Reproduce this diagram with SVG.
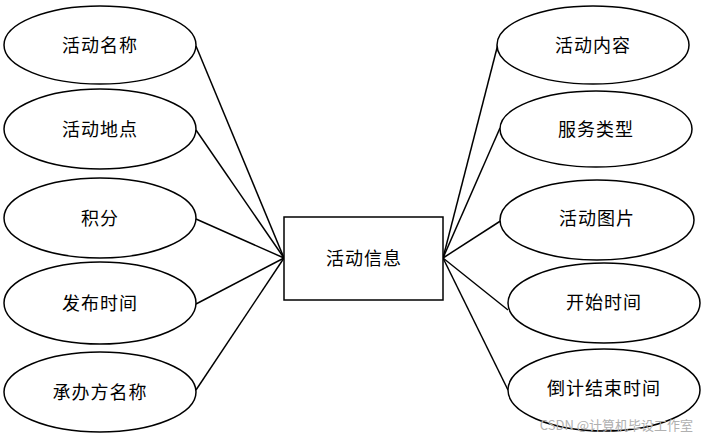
<svg xmlns="http://www.w3.org/2000/svg" width="704" height="438" viewBox="0 0 704 438">
<style>
.n ellipse, .n rect { fill: #fff; stroke: #000; stroke-width: 1.5; }
.n text { font-family: "Noto Sans CJK SC", "Liberation Sans", sans-serif; font-size: 18px; letter-spacing: 1px; fill: #000; text-anchor: middle; dominant-baseline: central; }
#connectors line { stroke: #000; stroke-width: 1.5; }
.wm { font-family: "Noto Sans CJK SC", "Liberation Sans", sans-serif; font-size: 13px; fill: #b0b0b0; text-anchor: end; }
</style>
<rect width="704" height="438" fill="#fff"/>
<g id="connectors">
<line x1="196" y1="46" x2="284" y2="258"/>
<line x1="196" y1="130" x2="284" y2="258"/>
<line x1="196" y1="219" x2="284" y2="258"/>
<line x1="196" y1="304" x2="284" y2="258"/>
<line x1="196" y1="390" x2="284" y2="258"/>
<line x1="498" y1="44" x2="443" y2="258"/>
<line x1="500" y1="128" x2="443" y2="258"/>
<line x1="502" y1="220" x2="443" y2="258"/>
<line x1="508" y1="310" x2="443" y2="258"/>
<line x1="508" y1="390" x2="443" y2="258"/>
</g>
<g id="entity" class="n"><rect x="284" y="217" width="159" height="83"/><text x="364" y="257">活动信息</text></g>
<g id="a1" class="n"><ellipse cx="100" cy="45" rx="96" ry="39"/><text x="100" y="44">活动名称</text></g>
<g id="a2" class="n"><ellipse cx="100" cy="129" rx="96" ry="40"/><text x="100" y="128">活动地点</text></g>
<g id="a3" class="n"><ellipse cx="100" cy="218" rx="96" ry="40"/><text x="100" y="217">积分</text></g>
<g id="a4" class="n"><ellipse cx="100" cy="303" rx="96" ry="41"/><text x="100" y="302">发布时间</text></g>
<g id="a5" class="n"><ellipse cx="100" cy="392" rx="96" ry="40"/><text x="100" y="391">承办方名称</text></g>
<g id="b1" class="n"><ellipse cx="593" cy="45" rx="96" ry="39"/><text x="593" y="44">活动内容</text></g>
<g id="b2" class="n"><ellipse cx="596" cy="129" rx="96" ry="38"/><text x="596" y="128">服务类型</text></g>
<g id="b3" class="n"><ellipse cx="597" cy="220" rx="97" ry="40"/><text x="597" y="217">活动图片</text></g>
<g id="b4" class="n"><ellipse cx="604" cy="303" rx="96" ry="40"/><text x="604" y="301">开始时间</text></g>
<g id="b5" class="n"><ellipse cx="604" cy="390" rx="96" ry="41"/><text x="604" y="387">倒计结束时间</text></g>
<text class="wm" x="693" y="430">CSDN @计算机毕设工作室</text>
</svg>
